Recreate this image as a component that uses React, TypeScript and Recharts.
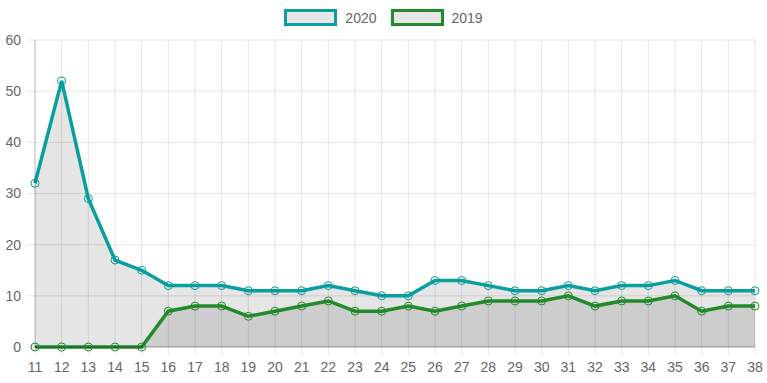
import { AreaChart, Area, XAxis, YAxis, CartesianGrid } from "recharts";

const weeks = ["11", "12", "13", "14", "15", "16", "17", "18", "19", "20", "21", "22", "23", "24", "25", "26", "27", "28", "29", "30", "31", "32", "33", "34", "35", "36", "37", "38"];
const values2020 = [32, 52, 29, 17, 15, 12, 12, 12, 11, 11, 11, 12, 11, 10, 10, 13, 13, 12, 11, 11, 12, 11, 12, 12, 13, 11, 11, 11];
const values2019 = [0, 0, 0, 0, 0, 7, 8, 8, 6, 7, 8, 9, 7, 7, 8, 7, 8, 9, 9, 9, 10, 8, 9, 9, 10, 7, 8, 8];
const yTicks = [0, 10, 20, 30, 40, 50, 60];

const TEAL = "#0a9e9e";
const GREEN = "#218a2a";
const FONT = "'Liberation Sans', Arial, Helvetica, sans-serif";

const data = weeks.map((w, i) => ({ week: w, y2020: values2020[i], y2019: values2019[i] }));

const series = [
  { key: "y2020", name: "2020", color: TEAL },
  { key: "y2019", name: "2019", color: GREEN },
];

function TopLegend() {
  return (
    <div style={{ position: "absolute", top: 9, left: 0, width: 767, display: "flex", justifyContent: "center", gap: 14, fontFamily: FONT, fontSize: 14, color: "#666" }}>
      {series.map(s => (
        <div key={s.key} style={{ display: "flex", alignItems: "center", gap: 8, height: 17 }}>
          <span style={{ display: "inline-block", width: 47, height: 11, border: `3px solid ${s.color}`, background: "#e6e6e6" }} />
          <span>{s.name}</span>
        </div>
      ))}
    </div>
  );
}

export default function App() {
  const tickStyle = { fill: "#666", fontSize: 14, fontFamily: FONT };
  return (
    <div style={{ position: "absolute", left: 0, top: 0, width: 767, height: 383, background: "#fff" }}>
      <AreaChart width={767} height={383} data={data} margin={{ top: 40, right: 12, left: 0, bottom: 0 }}>
        <CartesianGrid stroke="rgba(0,0,0,0.1)" />
        <XAxis
          dataKey="week"
          tick={tickStyle}
          tickSize={8}
          tickMargin={7}
          height={36}
          interval={0}
          stroke="rgba(0,0,0,0.25)"
          tickLine={{ stroke: "rgba(0,0,0,0.1)" }}
        />
        <YAxis
          domain={[0, 60]}
          ticks={yTicks}
          tick={tickStyle}
          tickSize={8}
          tickMargin={6}
          width={35}
          stroke="rgba(0,0,0,0.2)"
          tickLine={{ stroke: "rgba(0,0,0,0.1)" }}
        />
        {series.map(s => (
          <Area
            key={s.key}
            type="linear"
            dataKey={s.key}
            name={s.name}
            stroke={s.color}
            strokeWidth={3.5}
            fill="#000"
            fillOpacity={0.1}
            dot={{ r: 4, stroke: s.color, strokeWidth: 1, fill: "rgba(0,0,0,0.1)" }}
            activeDot={false}
            isAnimationActive={false}
          />
        ))}
      </AreaChart>
      <TopLegend />
    </div>
  );
}
